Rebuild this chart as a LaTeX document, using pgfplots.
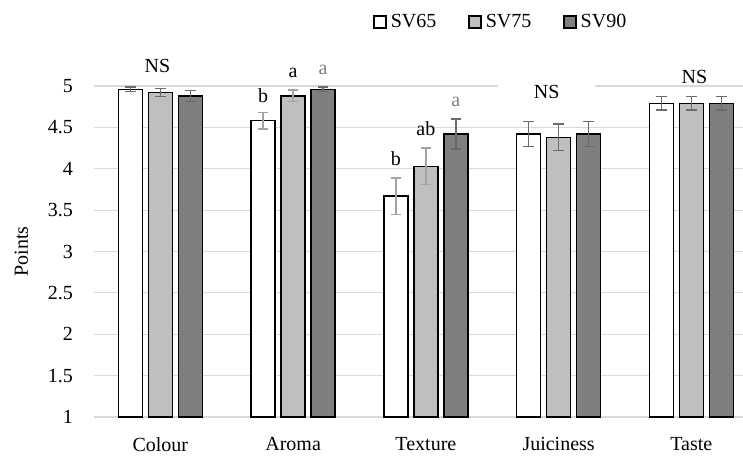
\documentclass[border=0pt]{standalone}
\usepackage{fontspec}
\setmainfont{Liberation Serif}
\usepackage{pgfplots}
\usepackage{pgfplotstable}
\pgfplotsset{compat=1.18}
\definecolor{gridc}{HTML}{D9D9D9}
\definecolor{barlight}{HTML}{BFBFBF}
\definecolor{bardark}{HTML}{7F7F7F}
\definecolor{errdark}{HTML}{6B6B6B}
\definecolor{errlight}{HTML}{A3A3A3}
\definecolor{txtgrey}{HTML}{7F7F7F}

% bars: x = category index, y = mean
\pgfplotstableread{
x y
0 4.96
1 4.58
2 3.67
3 4.42
4 4.79
}\sva
\pgfplotstableread{
x y
0 4.92
1 4.88
2 4.03
3 4.38
4 4.79
}\svb
\pgfplotstableread{
x y
0 4.88
1 4.96
2 4.42
3 4.42
4 4.79
}\svc
% error bars: x = bar centre (category index -/+ bar offset), y = mean, e = error
\pgfplotstableread{
x y e
-0.226 4.96 0.03
2.774 4.42 0.15
3.774 4.79 0.08
}\svadark
\pgfplotstableread{
x y e
0.774 4.58 0.10
1.774 3.67 0.22
}\svalight
\pgfplotstableread{
x y e
0 4.92 0.05
3 4.38 0.16
4 4.79 0.08
}\svbdark
\pgfplotstableread{
x y e
1 4.88 0.07
2 4.03 0.22
}\svblight
\pgfplotstableread{
x y e
0.226 4.88 0.065
1.226 4.96 0.03
2.226 4.42 0.18
3.226 4.42 0.15
4.226 4.79 0.08
}\svcerr

\pgfplotsset{
  mybar/.style={ybar, bar width=12pt, bar shift=#1, draw=black, line width=0.7pt,
    legend image code/.code={\draw[draw=black, line width=0.7pt, ##1] (0pt,-3pt) rectangle (6pt,3pt);}},
  myerr/.style={draw=none, mark=none, forget plot,
    error bars/.cd, y dir=both, y explicit,
    error bar style={color=#1, line width=0.7pt},
    error mark options={rotate=90, mark size=2.6pt, color=#1, line width=0.7pt}},
}

\begin{document}
\begin{tikzpicture}
\begin{axis}[
  scale only axis, width=324.5pt, height=165.5pt,
  xmin=-0.5, xmax=4.389, ymin=1, ymax=5,
  clip=false,
  axis line style={draw=none},
  major tick length=0pt,
  ymajorgrids, grid style={gridc, line width=0.6pt},
  ytick={1,1.5,2,2.5,3,3.5,4,4.5,5},
  xtick={0,1,2,3,4},
  xticklabels={Colour,Aroma,Texture,Juiciness,Taste},
  yticklabel style={xshift=-7pt},
  xticklabel style={yshift=-6.8pt},
  /pgf/number format/assume math mode=true,
  ylabel={Points},
  ylabel style={at={(axis description cs:-0.112,0.5)}, anchor=center},
  legend columns=3,
  legend style={draw=none, fill=none, inner sep=0pt, anchor=west,
    at={(axis description cs:0.4299,1.1934)},
    /tikz/every even column/.append style={column sep=14pt}},
]
\addplot[mybar=-15pt, fill=white] table[x=x,y=y] {\sva};
\addlegendentry{SV65}
\addplot[mybar=0pt, fill=barlight] table[x=x,y=y] {\svb};
\addlegendentry{SV75}
\addplot[mybar=15pt, fill=bardark] table[x=x,y=y] {\svc};
\addlegendentry{SV90}

\addplot[myerr=errdark] table[x=x,y=y,y error=e] {\svadark};
\addplot[myerr=errlight] table[x=x,y=y,y error=e] {\svalight};
\addplot[myerr=errdark] table[x=x,y=y,y error=e] {\svbdark};
\addplot[myerr=errlight] table[x=x,y=y,y error=e] {\svblight};
\addplot[myerr=errdark] table[x=x,y=y,y error=e] {\svcerr};

\node at (axis cs:0,5.24) [xshift=-1.5pt] {NS};
\node at (axis cs:1,4.88) [xshift=-15pt] {b};
\node at (axis cs:1,5.16) {a};
\node[txtgrey] at (axis cs:1,5.19) [xshift=15pt] {a};
\node at (axis cs:2,4.12) [xshift=-15pt] {b};
\node at (axis cs:2,4.48) {ab};
\node[txtgrey] at (axis cs:2,4.81) [xshift=15pt] {a};
\node[fill=white, inner xsep=18pt, inner ysep=1pt] at (axis cs:3,4.93) [xshift=-6pt] {NS};
\node at (axis cs:4,5.11) [xshift=1.5pt] {NS};
\end{axis}
\pgfresetboundingbox
\path[use as bounding box] (-47pt,-19pt) rectangle (324.5pt,208.5pt);
\end{tikzpicture}
\end{document}
